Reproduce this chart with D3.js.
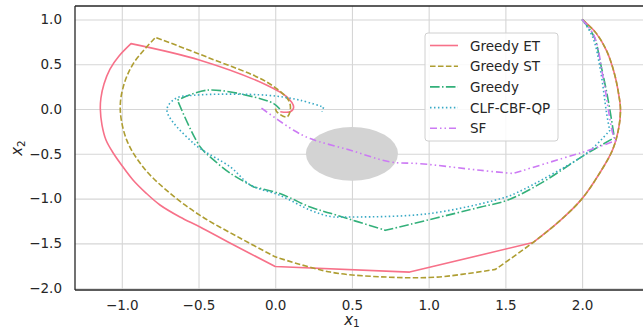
<!DOCTYPE html>
<html>
<head>
<meta charset="utf-8">
<script src="https://cdn.jsdelivr.net/npm/d3@7"></script>
<style>
  html, body { margin: 0; padding: 0; background: #fff; }
  svg { display: block; font-family: "DejaVu Sans", sans-serif; }
</style>
</head>
<body>
<svg id="chart"></svg>
<script>
// trajectories (x1, x2)
const greedyEtX = [2.0, 2.09, 2.16, 2.21, 2.24, 2.25, 2.24, 2.2, 2.12, 2.0, 1.86, 1.68, 0.876, 0.0, -0.295, -0.49, -0.621, -0.751, -0.842, -0.927, -0.997, -1.056, -1.103, -1.129, -1.14, -1.136, -1.116, -1.077, -1.018, -0.94, -0.49, -0.054, 0.076, 0.12, 0.098, 0.033];
const greedyEtY = [1.0, 0.85, 0.65, 0.4, 0.15, 0.0, -0.2, -0.45, -0.7, -1.0, -1.24, -1.49, -1.82, -1.757, -1.496, -1.317, -1.205, -1.071, -0.938, -0.792, -0.636, -0.491, -0.346, -0.179, 0.0, 0.123, 0.279, 0.446, 0.592, 0.73, 0.545, 0.266, 0.135, 0.02, -0.03, -0.03];
const greedyEtCorners = [11, 12, 13, 29];

const greedyStX = [2.0, 2.09, 2.16, 2.21, 2.24, 2.25, 2.24, 2.2, 2.12, 2.0, 1.86, 1.68, 1.435, 1.055, 0.73, 0.36, 0.0, -0.23, -0.49, -0.7, -0.86, -0.967, -1.01, -0.99, -0.924, -0.78, -0.445, -0.054, 0.087, 0.098, 0.076, 0.01, 0.0];
const greedyStY = [1.0, 0.85, 0.65, 0.4, 0.15, 0.0, -0.2, -0.45, -0.7, -1.0, -1.24, -1.49, -1.79, -1.876, -1.876, -1.82, -1.65, -1.44, -1.187, -0.92, -0.65, -0.35, -0.01, 0.25, 0.51, 0.8, 0.58, 0.3, 0.098, -0.013, -0.088, -0.03, 0.02];
const greedyStCorners = [12, 16, 25];

const greedyX = [2.0, 2.08, 2.12, 2.17, 2.21, 2.01, 1.73, 1.51, 1.34, 0.718, 0.36, 0.228, 0.03, -0.14, -0.29, -0.4, -0.49, -0.637, -0.445, -0.14, -0.01, 0.03];
const greedyY = [1.0, 0.8, 0.51, 0.1, -0.32, -0.52, -0.83, -1.02, -1.094, -1.354, -1.164, -1.094, -0.944, -0.87, -0.72, -0.57, -0.42, 0.098, 0.21, 0.135, 0.06, 0.0];
const greedyCorners = [4, 9, 13, 17];

const clfX = [2.0, 2.07, 2.12, 2.16, 2.18, 2.08, 1.99, 1.58, 1.47, 0.99, 0.45, 0.36, 0.23, 0.03, -0.16, -0.29, -0.53, -0.706, -0.65, -0.53, -0.054, 0.163, 0.315, 0.305];
const clfY = [1.0, 0.8, 0.43, -0.05, -0.24, -0.42, -0.54, -0.93, -1.0, -1.17, -1.205, -1.2, -1.13, -0.963, -0.85, -0.65, -0.386, -0.013, 0.117, 0.154, 0.154, 0.098, 0.02, -0.03];
const clfCorners = [4, 22];

const sfX = [2.0, 2.08, 2.14, 2.207, 2.225, 2.01, 1.97, 1.55, 1.337, 0.946, 0.75, 0.49, 0.228, 0.12, -0.098];
const sfY = [1.0, 0.81, 0.32, -0.31, -0.35, -0.48, -0.5, -0.72, -0.684, -0.61, -0.59, -0.46, -0.33, -0.237, 0.02];
const sfCorners = [4, 7];

const seriesNames = ["Greedy ET", "Greedy ST", "Greedy", "CLF-CBF-QP", "SF"];
const seriesColors = ["#f77189", "#ae9d31", "#33b07a", "#38a9c5", "#cc7af4"];
const seriesDashes = [null, "5.55,2.4", "9.6,2.4,1.5,2.4", "1.5,2.475", "7,3,1.5,3,1.5,3"];

const obstacleCenter = [0.5, -0.5];
const obstacleRadius = 0.3;

const xTicks = [-1.0, -0.5, 0.0, 0.5, 1.0, 1.5, 2.0];
const yTicks = [1.0, 0.5, 0.0, -0.5, -1.0, -1.5, -2.0];

const width = 643, height = 331;
const margin = { left: 75, right: 645, top: 6, bottom: 290 };

const svg = d3.select("#chart").attr("width", width).attr("height", height);

const x = d3.scaleLinear().domain([-1.305, 2.41]).range([margin.left, margin.right]);
const y = d3.scaleLinear().domain([-2.02, 1.15]).range([margin.bottom, margin.top]);

const fmt = d => d3.format(".1f")(d).replace("-", "\u2212");

// grid
svg.append("g")
  .attr("transform", "translate(0," + margin.bottom + ")")
  .call(d3.axisBottom(x).tickValues(xTicks).tickSize(-(margin.bottom - margin.top)).tickFormat(fmt).tickPadding(10))
  .call(g => g.select(".domain").remove())
  .call(g => g.selectAll("line").attr("stroke", "#d6d6d6").attr("stroke-width", 1.1))
  .call(g => g.selectAll("text").attr("fill", "#262626").style("font-size", "13.5px").style("font-family", "DejaVu Sans"));

svg.append("g")
  .attr("transform", "translate(" + margin.left + ",0)")
  .call(d3.axisLeft(y).tickValues(yTicks).tickSize(-(margin.right - margin.left)).tickFormat(fmt).tickPadding(13))
  .call(g => g.select(".domain").remove())
  .call(g => g.selectAll("line").attr("stroke", "#d6d6d6").attr("stroke-width", 1.1))
  .call(g => g.selectAll("text").attr("fill", "#262626").style("font-size", "13.5px").style("font-family", "DejaVu Sans"));

// obstacle
svg.append("ellipse")
  .attr("cx", x(obstacleCenter[0]))
  .attr("cy", y(obstacleCenter[1]))
  .attr("rx", x(obstacleCenter[0] + obstacleRadius) - x(obstacleCenter[0]))
  .attr("ry", y(obstacleCenter[1]) - y(obstacleCenter[1] + obstacleRadius))
  .attr("fill", "#d3d3d3");

const allX = [greedyEtX, greedyStX, greedyX, clfX, sfX];
const allY = [greedyEtY, greedyStY, greedyY, clfY, sfY];
const allCorners = [greedyEtCorners, greedyStCorners, greedyCorners, clfCorners, sfCorners];

// smooth through the samples, but keep the kinks sharp by doubling those points
const line = d3.line().x(d => x(d[0])).y(d => y(d[1])).curve(d3.curveCatmullRom.alpha(0.5));

const plot = svg.append("g");
seriesNames.forEach((name, i) => {
  const pts = [];
  allX[i].forEach((v, j) => {
    pts.push([v, allY[i][j]]);
    if (allCorners[i].includes(j)) pts.push([v, allY[i][j]]);
  });
  plot.append("path")
    .datum(pts)
    .attr("d", line)
    .attr("fill", "none")
    .attr("stroke", seriesColors[i])
    .attr("stroke-width", 1.6)
    .attr("stroke-dasharray", seriesDashes[i])
    .attr("stroke-linejoin", "round");
});

// spines
svg.append("line").attr("x1", margin.left).attr("x2", margin.left).attr("y1", margin.top).attr("y2", margin.bottom)
  .attr("stroke", "#262626").attr("stroke-width", 1.3);
svg.append("line").attr("x1", margin.left).attr("x2", margin.right).attr("y1", margin.bottom).attr("y2", margin.bottom)
  .attr("stroke", "#262626").attr("stroke-width", 1.3);
svg.append("line").attr("x1", margin.left).attr("x2", margin.right).attr("y1", margin.top).attr("y2", margin.top)
  .attr("stroke", "#262626").attr("stroke-width", 1.3);

// axis labels
svg.append("text")
  .attr("x", x(0.5)).attr("y", 325)
  .attr("text-anchor", "middle")
  .style("font-size", "15px").attr("fill", "#262626")
  .html('<tspan font-style="italic">x</tspan><tspan font-size="10.5px" dy="2">1</tspan>');

svg.append("text")
  .attr("transform", "translate(22," + ((margin.top + margin.bottom) / 2) + ") rotate(-90)")
  .attr("text-anchor", "middle")
  .style("font-size", "15px").attr("fill", "#262626")
  .html('<tspan font-style="italic">x</tspan><tspan font-size="10.5px" dy="3">2</tspan>');

// legend
const legend = svg.append("g").attr("transform", "translate(425,33)");
legend.append("rect")
  .attr("width", 133).attr("height", 108)
  .attr("rx", 3)
  .attr("fill", "#fff").attr("fill-opacity", 0.85)
  .attr("stroke", "#d0d0d0");
seriesNames.forEach((name, i) => {
  const ry = 12.5 + i * 20.7;
  legend.append("line")
    .attr("x1", 5).attr("x2", 33).attr("y1", ry).attr("y2", ry)
    .attr("stroke", seriesColors[i]).attr("stroke-width", 1.6)
    .attr("stroke-dasharray", seriesDashes[i]);
  legend.append("text")
    .attr("x", 45).attr("y", ry + 5)
    .style("font-size", "13.5px").attr("fill", "#262626")
    .text(name);
});
</script>
</body>
</html>
